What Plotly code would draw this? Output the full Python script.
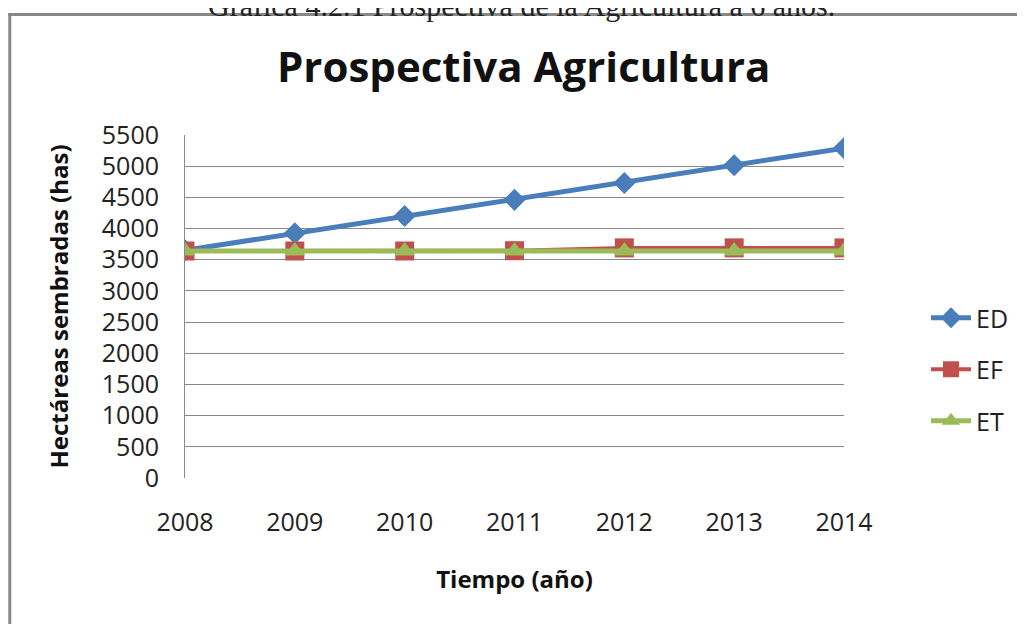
import plotly.graph_objects as go

years = [2008, 2009, 2010, 2011, 2012, 2013, 2014]
ed = [3650, 3925, 4200, 4460, 4730, 5015, 5290]
ef = [3640, 3640, 3640, 3645, 3690, 3690, 3690]
et = [3640, 3640, 3640, 3640, 3640, 3640, 3640]
y_ticks = [0, 500, 1000, 1500, 2000, 2500, 3000, 3500, 4000, 4500, 5000, 5500]

OFF = 8  # page body margin
W, H = 1025 - OFF, 624 - OFF
L, T = 185 - OFF, 135 - OFF
PW, PH = 660, 343
R = W - L - PW
B = H - T - PH

def px(x):  # page pixel -> paper x
    return (x - OFF - L) / PW

def py(y):  # page pixel -> paper y
    return (T + PH - (y - OFF)) / PH

FONT = "Open Sans"

fig = go.Figure()
fig.add_trace(go.Scatter(x=years, y=ed, name="ED", mode="lines+markers",
                         line=dict(color="#4A7EBB", width=5),
                         marker=dict(symbol="diamond", size=17, color="#4A7EBB"),
                         legendgroup="a"))
fig.add_trace(go.Scatter(x=years, y=ef, name="EF", mode="lines+markers",
                         line=dict(color="#C0504D", width=4),
                         marker=dict(symbol="square", size=19, color="#C0504D"),
                         legendgroup="b"))
fig.add_trace(go.Scatter(x=years, y=et, name="ET", mode="lines+markers",
                         line=dict(color="#9BBB59", width=5),
                         marker=dict(symbol="triangle-up", size=18, color="#9BBB59"),
                         legendgroup="c"))

fig.update_layout(
    width=W, height=H,
    margin=dict(l=L, r=R, t=T, b=B),
    paper_bgcolor="white", plot_bgcolor="white",
    font=dict(family=FONT, size=25, color="#222222"),
    showlegend=True,
    legend=dict(x=px(926), y=py(295), xanchor="left", yanchor="top",
                font=dict(family=FONT, size=25, color="#222222"),
                traceorder="grouped", tracegroupgap=16, itemwidth=40,
                bgcolor="rgba(0,0,0,0)"),
    xaxis=dict(range=[2008, 2014], tickvals=years, ticktext=[str(y) for y in years],
               showgrid=False, zeroline=False, showline=False, ticks="",
               ticklabelstandoff=27,
               tickfont=dict(family=FONT, size=25, color="#222222"),
               title=dict(text="<b>Tiempo (año)</b>", standoff=34,
                          font=dict(family=FONT, size=24, color="#111111"))),
    yaxis=dict(range=[0, 5500], tickvals=y_ticks,
               showgrid=True, gridcolor="#8A8A8A", gridwidth=1,
               zeroline=False, showline=True, linecolor="#8A8A8A", linewidth=1,
               ticks="", ticklabelstandoff=20,
               tickfont=dict(family=FONT, size=25, color="#222222"),
               title=dict(text="<b>Hectáreas sembradas (has)</b>", standoff=26,
                          font=dict(family=FONT, size=24, color="#111111"))),
    annotations=[
        dict(text="<b>Prospectiva Agricultura</b>", xref="paper", yref="paper",
             x=px(524), y=py(65), xanchor="center", yanchor="middle", showarrow=False,
             font=dict(family=FONT, size=42, color="#111111")),
        dict(text="Gráfica 4.2.1 Prospectiva de la Agricultura a 6 años.",
             xref="paper", yref="paper", x=px(522), y=py(24),
             xanchor="center", yanchor="bottom", showarrow=False,
             font=dict(family="Liberation Serif", size=30, color="#222222")),
    ],
    shapes=[
        dict(type="line", xref="paper", yref="paper",
             x0=px(8), x1=px(1100), y0=py(14.5), y1=py(14.5),
             line=dict(color="#888888", width=3), layer="below"),
        dict(type="line", xref="paper", yref="paper",
             x0=px(9.5), x1=px(9.5), y0=py(13), y1=py(700),
             line=dict(color="#888888", width=3), layer="below"),
    ],
)

fig.write_html("out.html")
